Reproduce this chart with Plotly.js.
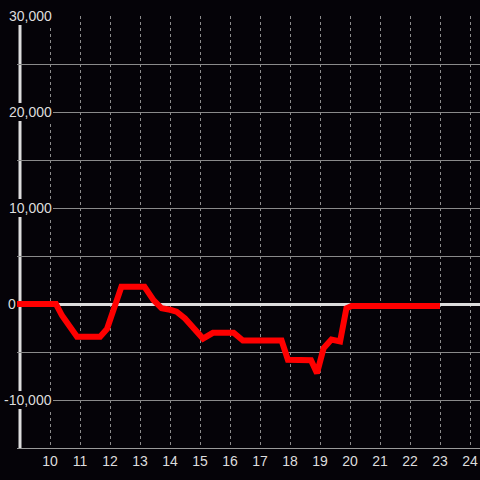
<!DOCTYPE html>
<html>
<head>
<meta charset="utf-8">
<script src="https://cdn.plot.ly/plotly-3.0.1.min.js"></script>
<style>
  html, body { margin: 0; padding: 0; background: #050308; }
  #chart { width: 480px; height: 480px; }
</style>
</head>
<body>
<div id="chart"></div>
<script>
// Hour of day
const hours = [8.9, 10.2, 10.4, 10.65, 10.9, 11.67, 11.9, 12.38, 13.15, 13.45, 13.72, 14.0, 14.22, 14.5, 15.1, 15.43, 16.12, 16.43, 17.72, 17.93, 18.7, 18.9, 19.12, 19.38, 19.67, 19.88, 20.05, 23];
// Series values
const values = [0, 0, -1200, -2200, -3400, -3400, -2600, 1800, 1800, 400, -450, -600, -800, -1500, -3600, -3000, -3000, -3800, -3800, -5800, -5850, -7200, -4600, -3700, -3900, -450, -200, -200];
// Tick labels
const xTickVals = [10, 11, 12, 13, 14, 15, 16, 17, 18, 19, 20, 21, 22, 23, 24];
const xTickText = ["10", "11", "12", "13", "14", "15", "16", "17", "18", "19", "20", "21", "22", "23", "24"];
const yTickVals = [30000, 20000, 10000, 0, -10000];
const yTickText = ["30,000", "20,000", "10,000", "0", "-10,000"];

const BG = '#050308';
const TXT = '#dddddd';
const FONT = 'Liberation Sans, Arial, sans-serif';
const marginL = 17;

const annotations = yTickVals.map((v, i) => ({
  xref: 'paper', yref: 'y', x: 0, y: v,
  xanchor: 'right', yanchor: 'middle',
  xshift: (v === 0 ? 16 : 52) - marginL + 1,
  text: yTickText[i], showarrow: false,
  bgcolor: BG, borderpad: 1, borderwidth: 0,
  font: { family: FONT, size: 14, color: TXT }
}));

const trace = {
  x: hours, y: values, type: 'scatter', mode: 'lines',
  line: { color: '#ff0000', width: 6 },
  hoverinfo: 'skip'
};

const layout = {
  width: 480, height: 480,
  margin: { l: marginL, r: 0, t: 16, b: 32, pad: 0 },
  paper_bgcolor: BG, plot_bgcolor: BG,
  showlegend: false,
  font: { family: FONT, size: 14, color: TXT },
  xaxis: {
    range: [8.9, 8.9 + 463 / 30],
    tickmode: 'array', tickvals: xTickVals, ticktext: xTickText,
    showgrid: true, gridcolor: '#8c8c8c', gridwidth: 1, griddash: 'dot',
    zeroline: false, ticks: '', showline: true, linecolor: '#9a9a9a', linewidth: 1,
    tickfont: { family: FONT, size: 14, color: TXT }
  },
  yaxis: {
    range: [-15000, 30000],
    tickmode: 'array', tickvals: [30000, 25000, 20000, 15000, 10000, 5000, 0, -5000, -10000],
    showticklabels: false,
    showgrid: true, gridcolor: '#8a8a8a', gridwidth: 1,
    zeroline: true, zerolinecolor: '#dddddd', zerolinewidth: 3,
    ticks: '', showline: false
  },
  shapes: [{
    type: 'line', xref: 'x', yref: 'paper', x0: 9, x1: 9, y0: 0, y1: 1,
    line: { color: '#dddddd', width: 3 }, layer: 'between'
  }],
  annotations: annotations
};

Plotly.newPlot('chart', [trace], layout, { staticPlot: true, displayModeBar: false });
</script>
</body>
</html>
